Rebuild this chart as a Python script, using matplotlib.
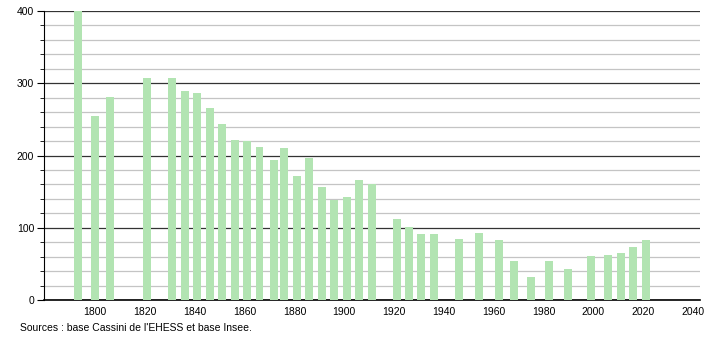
import matplotlib
matplotlib.use("Agg")
import matplotlib.pyplot as plt
from matplotlib.ticker import MultipleLocator

plt.rcParams['font.family'] = ['Liberation Sans', 'DejaVu Sans']

# census years and population
years = [1793, 1800, 1806, 1821, 1831, 1836, 1841, 1846, 1851, 1856,
         1861, 1866, 1872, 1876, 1881, 1886, 1891, 1896, 1901, 1906,
         1911, 1921, 1926, 1931, 1936, 1946, 1954, 1962, 1968, 1975,
         1982, 1990, 1999, 2006, 2011, 2016, 2021]
population = [400, 255, 281, 307, 307, 289, 286, 266, 244, 221,
              220, 212, 194, 211, 172, 197, 156, 139, 143, 166,
              161, 112, 101, 91, 91, 84, 93, 83, 54, 32,
              54, 43, 61, 62, 65, 73, 83]
source_text = "Sources : base Cassini de l'EHESS et base Insee."

fig = plt.figure(figsize=(7.1, 3.4), dpi=100)
ax = fig.add_axes([44 / 710, 40 / 340, 656 / 710, 289 / 340])

ax.bar(years, population, width=3.2, color='#b2e4b2', zorder=3)

ax.set_xlim(1779.5, 2042.8)
ax.set_ylim(0, 400)
ax.set_xticks(range(1800, 2041, 20))
ax.yaxis.set_major_locator(MultipleLocator(100))
ax.yaxis.set_minor_locator(MultipleLocator(20))

ax.grid(True, which='minor', axis='y', color='#c4c4c4', linewidth=0.9, zorder=1)
ax.grid(True, which='major', axis='y', color='#333333', linewidth=0.9, zorder=2)

for s in ['top', 'right']:
    ax.spines[s].set_visible(False)
ax.spines['left'].set_color('black')
ax.spines['bottom'].set_color('black')
ax.spines['bottom'].set_linewidth(1.2)

ax.tick_params(axis='x', length=0, labelsize=7.5, pad=5)
ax.tick_params(axis='y', which='major', length=5, labelsize=7.5, pad=2)
ax.tick_params(axis='y', which='minor', length=3)

fig.text(20 / 710, 12 / 340, source_text, fontsize=7.5, ha='left', va='center')

fig.savefig('out.png', dpi=100)
